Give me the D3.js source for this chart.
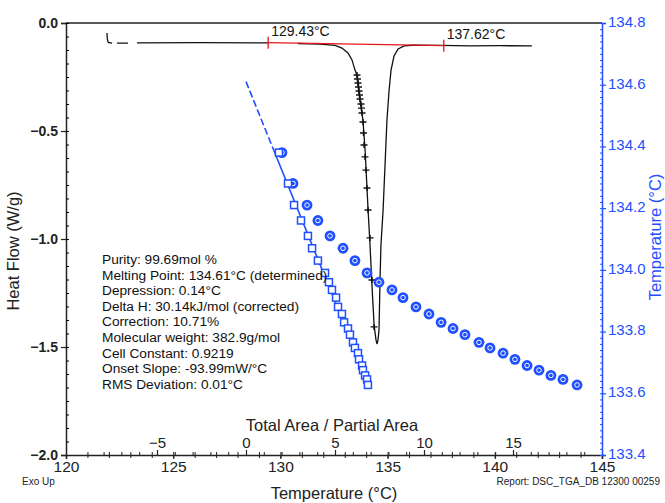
<!DOCTYPE html>
<html>
<head>
<meta charset="utf-8">
<script src="https://cdn.jsdelivr.net/npm/d3@7"></script>
<style>
  body { margin: 0; background: #fff; }
  svg { font-family: "Liberation Sans", Arial, sans-serif; }
</style>
</head>
<body>
<div id="VizBox"></div>
<script>
// heat flow curve, [temperature, heat flow], null = gap in the trace
var heatFlow = [
  [121.91, -0.046], [121.93, -0.075], [121.97, -0.090], [122.15, -0.093], null,
  [122.38, -0.093], [122.89, -0.093], null,
  [123.31, -0.092], [126.25, -0.091], [129.42, -0.092], null,
  [130.82, -0.095], [131.85, -0.098], [132.55, -0.104], [132.87, -0.116], [133.15, -0.139],
  [133.34, -0.171], [133.48, -0.218], [133.57, -0.241], [133.71, -0.356], [133.85, -0.449],
  [133.95, -0.588], [134.02, -0.727], [134.09, -0.866], [134.18, -1.028], [134.27, -1.213],
  [134.37, -1.398], [134.46, -1.468], [134.51, -1.486], [134.55, -1.468], [134.60, -1.421],
  [134.65, -1.176], [134.69, -1.028], [134.79, -0.866], [134.88, -0.657], [134.97, -0.449],
  [135.07, -0.310], [135.16, -0.218], [135.30, -0.153], [135.49, -0.120], [135.77, -0.106],
  [136.14, -0.103], [137.44, -0.104], [138.84, -0.106], [140.24, -0.105], [141.73, -0.106]
];

// partial area points on the melting peak
var partialPts = [
  [133.573, -0.241], [133.596, -0.259], [133.619, -0.278], [133.643, -0.296], [133.666, -0.315],
  [133.690, -0.333], [133.713, -0.352], [133.760, -0.375], [133.783, -0.394], [133.806, -0.417],
  [133.853, -0.458], [133.876, -0.509], [133.900, -0.565], [133.946, -0.620], [133.993, -0.681],
  [134.039, -0.764], [134.086, -0.866], [134.179, -0.995], [134.272, -1.190], [134.366, -1.407]
];

// integration baseline limits
var baseline = [[129.43, -0.091], [137.62, -0.105]];
var baseLabels = ["129.43°C", "137.62°C"];

// purity plot: sample temperature vs total area / partial area
var purityTemps = [134.38, 134.28, 134.21, 134.16, 134.11, 134.07, 134.03, 133.99, 133.96, 133.935,
  133.91, 133.88, 133.857, 133.83, 133.81, 133.79, 133.765, 133.747, 133.73, 133.71,
  133.69, 133.675, 133.658, 133.645, 133.627];
var correctedArea = [1.85, 2.36, 2.70, 3.09, 3.48, 3.71, 4.04, 4.44, 4.66, 4.83,
  5.06, 5.17, 5.39, 5.51, 5.73, 5.84, 6.01, 6.12, 6.29, 6.35,
  6.52, 6.57, 6.69, 6.80, 6.85];
var rawArea = [2.02, 2.64, 3.43, 4.04, 4.72, 5.45, 6.12, 6.80, 7.47, 8.20,
  8.82, 9.55, 10.28, 10.96, 11.63, 12.30, 13.09, 13.71, 14.44, 15.11,
  15.79, 16.46, 17.13, 17.81, 18.60];

// fitted line (dashed part, solid part)
var fitDashed = [[0, 134.61], [1.6, 134.382]];
var fitSolid = [[1.6, 134.382], [6.87, 133.631]];

var results = [
  "Purity: 99.69mol %",
  "Melting Point: 134.61°C (determined)",
  "Depression: 0.14°C",
  "Delta H: 30.14kJ/mol (corrected)",
  "Correction: 10.71%",
  "Molecular weight: 382.9g/mol",
  "Cell Constant: 0.9219",
  "Onset Slope: -93.99mW/°C",
  "RMS Deviation: 0.01°C"
];

var tempTicks = [120, 125, 130, 135, 140, 145];
var hfTicks = [0, -0.5, -1.0, -1.5, -2.0];
var rightTicks = [133.4, 133.6, 133.8, 134.0, 134.2, 134.4, 134.6, 134.8];
var areaTicks = [-5, 0, 5, 10, 15];

var blue = "#1f4fff";
var W = 665, H = 503;
var margin = {top: 23, right: 63, bottom: 48, left: 66};
var width = W - margin.left - margin.right,
    height = H - margin.top - margin.bottom;

var svg = d3.select("#VizBox")
  .append("svg")
    .attr("width", W)
    .attr("height", H)
  .append("g")
    .attr("transform", "translate(" + margin.left + "," + margin.top + ")");

var x = d3.scaleLinear().domain([120, 145]).range([0, width]);
var y = d3.scaleLinear().domain([-2, 0]).range([height, 0]);
var yR = d3.scaleLinear().domain([133.4, 134.8]).range([height, 0]);
var xA = d3.scaleLinear().domain([-5, 15]).range([91, 447]);

// frame top line
svg.append("line")
  .attr("x1", 0).attr("x2", width).attr("y1", 0).attr("y2", 0)
  .attr("stroke", "#222").attr("stroke-width", 1.5);

// left axis
var yAxis = svg.append("g")
  .call(d3.axisLeft(y).tickValues(hfTicks).tickFormat(d3.format(".1f")).tickSize(5));
svg.append("g")
  .call(d3.axisLeft(y).tickValues(d3.range(0, 33).map(function(i) { return -i * 0.0625; }))
    .tickFormat("").tickSizeInner(-3).tickSizeOuter(0))
  .select(".domain").remove();
yAxis.select(".domain").attr("stroke", "#222").attr("stroke-width", 1.5);
yAxis.selectAll("line").attr("stroke", "#222").attr("stroke-width", 1.2);
yAxis.selectAll("text")
  .attr("font-size", "14px").attr("font-weight", "bold").attr("fill", "#222");

// bottom axis
var xAxis = svg.append("g")
  .attr("transform", "translate(0," + height + ")")
  .call(d3.axisBottom(x).tickValues(tempTicks).tickSize(4).tickPadding(2));
xAxis.select(".domain").attr("stroke", "#222").attr("stroke-width", 1.5);
xAxis.selectAll("line").attr("stroke", "#222").attr("stroke-width", 1.2);
xAxis.selectAll("text").attr("font-size", "15.5px").attr("fill", "#222");
svg.append("g")
  .attr("transform", "translate(0," + height + ")")
  .call(d3.axisBottom(x).ticks(25).tickFormat("").tickSizeInner(3).tickSizeOuter(0))
  .call(function(g) { g.select(".domain").remove(); g.selectAll("line").attr("stroke", "#222").attr("y1", -3); });

// top axis of the purity plot, drawn on the bottom line
var aAxis = svg.append("g")
  .attr("transform", "translate(0," + height + ")")
  .call(d3.axisTop(xA).tickValues(areaTicks).tickSize(5).tickPadding(2));
aAxis.select(".domain").remove();
aAxis.selectAll("line").attr("stroke", "#222").attr("stroke-width", 1.2);
aAxis.selectAll("text").attr("font-size", "15px").attr("fill", "#222");
svg.append("g")
  .attr("transform", "translate(0," + height + ")")
  .call(d3.axisTop(xA).tickValues(d3.range(-8, 20)).tickFormat("").tickSizeInner(3).tickSizeOuter(0))
  .call(function(g) { g.select(".domain").remove(); g.selectAll("line").attr("stroke", "#222"); });

svg.append("text")
  .attr("x", (xA(-5) + xA(15)) / 2 - 3).attr("y", 408)
  .attr("text-anchor", "middle").attr("font-size", "16.5px").attr("fill", "#222")
  .text("Total Area / Partial Area");

// right axis
var rAxis = svg.append("g")
  .attr("transform", "translate(" + width + ",0)")
  .call(d3.axisRight(yR).tickValues(rightTicks).tickFormat(d3.format(".1f")).tickSize(4).tickPadding(2));
svg.append("g")
  .attr("transform", "translate(" + width + ",0)")
  .call(d3.axisLeft(yR).tickValues(d3.range(0, 71).map(function(i) { return 133.4 + i * 0.02; }))
    .tickFormat("").tickSizeInner(2).tickSizeOuter(0))
  .call(function(g) { g.select(".domain").remove(); g.selectAll("line").attr("stroke", blue); });
rAxis.select(".domain").attr("stroke", blue).attr("stroke-width", 1.5);
rAxis.selectAll("line").attr("stroke", blue).attr("stroke-width", 1.2);
rAxis.selectAll("text").attr("font-size", "15px").attr("fill", blue).attr("dy", "0.22em");

// axis titles
svg.append("text")
  .attr("transform", "translate(" + (-47) + "," + (height / 2 + 12) + ")rotate(-90)")
  .attr("text-anchor", "middle").attr("font-size", "16.5px").attr("fill", "#222")
  .text("Heat Flow (W/g)");
svg.append("text")
  .attr("transform", "translate(" + (width + 59) + "," + 214 + ")rotate(-90)")
  .attr("text-anchor", "middle").attr("font-size", "16.5px").attr("fill", blue)
  .text("Temperature (°C)");
svg.append("text")
  .attr("x", width / 2).attr("y", height + 44)
  .attr("text-anchor", "middle").attr("font-size", "16.5px").attr("fill", "#222")
  .text("Temperature (°C)");
svg.append("text")
  .attr("x", -44).attr("y", height + 30)
  .attr("font-size", "10px").attr("fill", "#222")
  .text("Exo Up");
svg.append("text")
  .attr("x", width + 58).attr("y", height + 30)
  .attr("text-anchor", "end").attr("font-size", "10px").attr("fill", "#222")
  .text("Report: DSC_TGA_DB 12300 00259");

// heat flow curve
var line = d3.line()
  .defined(function(d) { return d !== null; })
  .x(function(d) { return x(d[0]); })
  .y(function(d) { return y(d[1]); });
svg.append("path")
  .datum(heatFlow)
  .attr("d", line)
  .attr("fill", "none").attr("stroke", "#111").attr("stroke-width", 1.3);

// baseline in red with limit ticks
svg.append("path")
  .datum(baseline)
  .attr("d", line)
  .attr("fill", "none").attr("stroke", "#e8141c").attr("stroke-width", 1.3);
svg.selectAll(".blim")
  .data(baseline)
  .enter().append("line")
    .attr("x1", function(d) { return x(d[0]); })
    .attr("x2", function(d) { return x(d[0]); })
    .attr("y1", function(d) { return y(d[1]) - 6; })
    .attr("y2", function(d) { return y(d[1]) + 6; })
    .attr("stroke", "#e8141c").attr("stroke-width", 1.3);
svg.selectAll(".blab")
  .data(baseline)
  .enter().append("text")
    .attr("x", function(d) { return x(d[0]) + 3; })
    .attr("y", function(d) { return y(d[1]) - 7; })
    .attr("font-size", "14px").attr("fill", "#111")
    .text(function(d, i) { return baseLabels[i]; });

// partial area markers
svg.selectAll(".pp")
  .data(partialPts)
  .enter().append("path")
    .attr("d", function(d) {
      var px = x(d[0]), py = y(d[1]);
      return "M" + (px - 3.5) + "," + py + "h7M" + px + "," + (py - 3) + "v6";
    })
    .attr("stroke", "#111").attr("stroke-width", 1.4);

// fit line
var fitLine = d3.line()
  .x(function(d) { return xA(d[0]); })
  .y(function(d) { return yR(d[1]); });
svg.append("path").datum(fitDashed).attr("d", fitLine)
  .attr("fill", "none").attr("stroke", blue).attr("stroke-width", 1.6).attr("stroke-dasharray", "7,3");
svg.append("path").datum(fitSolid).attr("d", fitLine)
  .attr("fill", "none").attr("stroke", blue).attr("stroke-width", 1.6);

// raw points (circles)
var circ = svg.selectAll(".rp")
  .data(rawArea)
  .enter().append("g")
    .attr("transform", function(d, i) { return "translate(" + xA(d) + "," + yR(purityTemps[i]) + ")"; });
circ.append("circle").attr("r", 5.4).attr("fill", blue);
circ.append("circle").attr("r", 2.3).attr("fill", blue).attr("stroke", "#fff").attr("stroke-width", 1);

// corrected points (squares)
svg.selectAll(".cp")
  .data(correctedArea)
  .enter().append("rect")
    .attr("x", function(d) { return xA(d) - 3.5; })
    .attr("y", function(d, i) { return yR(purityTemps[i]) - 3.5; })
    .attr("width", 7).attr("height", 7)
    .attr("fill", "#fff").attr("stroke", blue).attr("stroke-width", 1.5);

// results text
svg.selectAll(".res")
  .data(results)
  .enter().append("text")
    .attr("x", 36)
    .attr("y", function(d, i) { return 241 + i * 15.6; })
    .attr("font-size", "13.7px").attr("fill", "#111")
    .text(function(d) { return d; });
</script>
</body>
</html>
